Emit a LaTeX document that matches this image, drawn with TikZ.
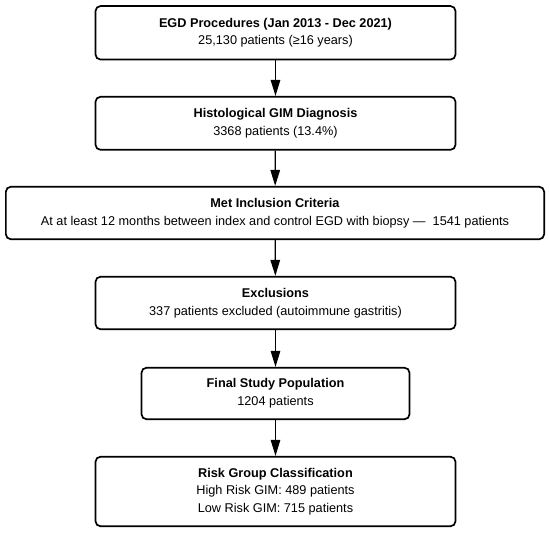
\documentclass[tikz,border=0pt]{standalone}
\usepackage{fontspec}
\setmainfont{Liberation Sans}
\usetikzlibrary{arrows.meta}
\tikzset{
  flowbox/.style={draw=black, line width=1.7pt, rounded corners=5pt, fill=white,
    align=center, inner sep=0pt, font=\fontsize{12.7}{17.7}\selectfont},
  flowarrow/.style={line width=1.3pt, -{Triangle[width=9.5pt,length=16pt]}}
}
\begin{document}
\begin{tikzpicture}[x=1pt,y=-1pt]
\useasboundingbox (0,0) rectangle (550,534);
\node[flowbox, minimum width=360pt, minimum height=53.5pt] (b1) at (275.5,32.8)
  {\textbf{EGD Procedures (Jan 2013 - Dec 2021)}\\25,130 patients (≥16 years)};
\node[flowbox, minimum width=360pt, minimum height=53pt] (b2) at (275.5,123.3)
  {\textbf{Histological GIM Diagnosis}\\3368 patients (13.4\%)};
\node[flowbox, minimum width=538.3pt, minimum height=52.5pt] (b3) at (275,213)
  {\textbf{Met Inclusion Criteria}\\At at least 12 months between index and control EGD with biopsy —\ \ 1541 patients};
\node[flowbox, minimum width=360pt, minimum height=52.5pt] (b4) at (275.5,303)
  {\textbf{Exclusions}\\337 patients excluded (autoimmune gastritis)};
\node[flowbox, minimum width=268pt, minimum height=51.5pt] (b5) at (275.5,393.5)
  {\textbf{Final Study Population}\\1204 patients};
\node[flowbox, minimum width=360pt, minimum height=69.5pt] (b6) at (275.5,491.5)
  {\textbf{Risk Group Classification}\\High Risk GIM: 489 patients\\Low Risk GIM: 715 patients};
\draw[flowarrow] (b1) -- (b2);
\draw[flowarrow] (b2) -- (b3);
\draw[flowarrow] (b3) -- (b4);
\draw[flowarrow] (b4) -- (b5);
\draw[flowarrow] (b5) -- (b6);
\end{tikzpicture}
\end{document}
